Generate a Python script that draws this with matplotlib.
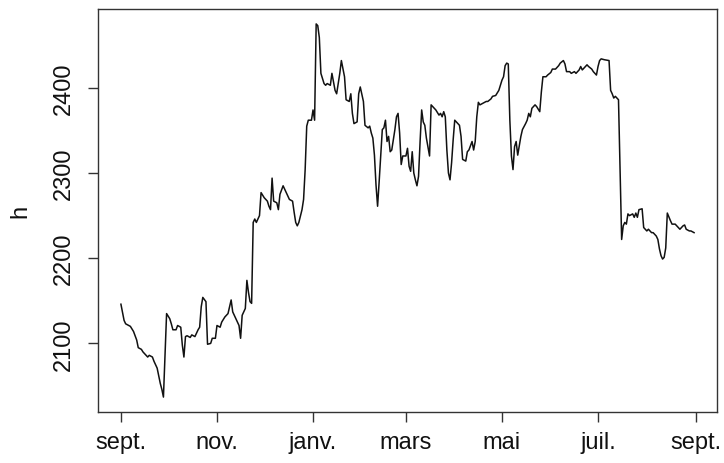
import numpy as np
import matplotlib
matplotlib.use("Agg")
import matplotlib.pyplot as plt
import matplotlib.dates as mdates

plt.rcParams["font.family"] = ["Liberation Sans", "DejaVu Sans"]

# Days elapsed since the start date, and the observed level h on each day
start_date = np.datetime64("2018-09-01")
days = [
    0, 2, 3, 6, 8, 10, 11, 13, 14, 16,
    17, 18, 20, 21, 23, 24, 25, 26, 27, 29,
    31, 32, 33, 35, 36, 38, 39, 40, 41, 42,
    44, 45, 47, 49, 50, 51, 52, 54, 55, 57,
    58, 60, 61, 63, 64, 66, 68, 70, 71, 74,
    75, 76, 77, 79, 80, 81, 82, 83, 84, 85,
    86, 88, 89, 91, 93, 94, 95, 96, 97, 99,
    100, 101, 103, 106, 107, 109, 110, 111, 112, 113,
    115, 116, 117, 118, 119, 121, 122, 123, 124, 125,
    126, 127, 128, 129, 130, 131, 133, 134, 136, 137,
    139, 140, 142, 143, 145, 146, 147, 148, 150, 151,
    152, 154, 155, 157, 158, 159, 160, 161, 162, 163,
    164, 166, 167, 168, 169, 170, 171, 172, 174, 175,
    176, 177, 178, 179, 181, 182, 183, 184, 185, 186,
    187, 188, 189, 190, 191, 192, 193, 194, 196, 197,
    198, 200, 202, 203, 204, 205, 206, 207, 208, 209,
    210, 211, 212, 214, 215, 216, 217, 219, 220, 221,
    223, 224, 225, 226, 227, 228, 230, 232, 233, 235,
    236, 238, 240, 241, 242, 243, 244, 245, 246, 247,
    248, 249, 250, 251, 252, 254, 255, 257, 258, 259,
    260, 261, 263, 264, 266, 267, 268, 270, 271, 273,
    274, 276, 278, 279, 281, 282, 283, 285, 286, 288,
    289, 291, 292, 293, 295, 296, 297, 299, 300, 302,
    303, 304, 305, 307, 310, 311, 312, 313, 314, 316,
    318, 319, 320, 321, 322, 323, 325, 326, 327, 328,
    329, 331, 332, 334, 335, 337, 338, 340, 341, 342,
    343, 344, 345, 346, 347, 349, 350, 352, 354, 355,
    357, 358, 359, 361, 362, 364,
]
h = [
    2146, 2127, 2123, 2120, 2114, 2104, 2095, 2093, 2090, 2086,
    2084, 2086, 2084, 2079, 2071, 2062, 2053, 2046, 2037, 2135,
    2129, 2123, 2116, 2116, 2121, 2119, 2098, 2084, 2108, 2109,
    2107, 2110, 2108, 2116, 2119, 2143, 2154, 2149, 2099, 2100,
    2106, 2106, 2121, 2119, 2125, 2131, 2135, 2151, 2137, 2125,
    2121, 2106, 2133, 2141, 2174, 2160, 2149, 2147, 2242, 2246,
    2242, 2250, 2277, 2271, 2267, 2261, 2257, 2294, 2267, 2265,
    2257, 2275, 2285, 2273, 2269, 2267, 2254, 2242, 2238, 2242,
    2257, 2269, 2304, 2355, 2362, 2362, 2374, 2362, 2475, 2473,
    2459, 2417, 2411, 2405, 2403, 2405, 2403, 2417, 2397, 2393,
    2417, 2432, 2413, 2386, 2384, 2393, 2370, 2358, 2360, 2393,
    2401, 2384, 2356, 2353, 2355, 2347, 2341, 2321, 2286, 2261,
    2290, 2351, 2353, 2362, 2337, 2343, 2325, 2327, 2351, 2366,
    2370, 2347, 2310, 2320, 2320, 2329, 2308, 2302, 2325, 2300,
    2292, 2285, 2296, 2337, 2374, 2360, 2356, 2341, 2320, 2380,
    2378, 2374, 2368, 2370, 2366, 2372, 2366, 2327, 2300, 2292,
    2312, 2339, 2362, 2358, 2356, 2343, 2316, 2314, 2325, 2327,
    2337, 2327, 2337, 2366, 2383, 2380, 2382, 2384, 2384, 2387,
    2390, 2391, 2397, 2403, 2409, 2413, 2426, 2429, 2428, 2362,
    2320, 2304, 2331, 2337, 2321, 2343, 2351, 2358, 2362, 2370,
    2366, 2376, 2380, 2378, 2372, 2395, 2413, 2413, 2415, 2418,
    2422, 2422, 2426, 2429, 2432, 2428, 2419, 2419, 2417, 2419,
    2417, 2421, 2425, 2421, 2425, 2427, 2425, 2422, 2419, 2415,
    2425, 2432, 2434, 2433, 2432, 2397, 2393, 2388, 2390, 2386,
    2222, 2238, 2242, 2240, 2252, 2250, 2252, 2248, 2253, 2248,
    2257, 2258, 2236, 2232, 2234, 2230, 2230, 2226, 2222, 2211,
    2203, 2199, 2201, 2212, 2253, 2244, 2240, 2240, 2236, 2234,
    2238, 2239, 2234, 2232, 2232, 2230,
]

tick_dates = ["2018-09-01", "2018-11-01", "2019-01-01", "2019-03-01",
              "2019-05-01", "2019-07-01", "2019-09-01"]
tick_labels = ["sept.", "nov.", "janv.", "mars", "mai", "juil.", "sept."]
y_ticks = [2100, 2200, 2300, 2400]

dates = start_date + np.array(days, dtype="timedelta64[D]")
h = np.array(h, dtype=float)

fig = plt.figure(figsize=(7.24, 4.64), dpi=100)
ax = fig.add_axes([98 / 724, 1 - 413 / 464, 619 / 724, 403 / 464])

ax.plot(dates.astype("datetime64[D]").astype(object), h, color="#111111", lw=1.1)

# R-style 4% padding around the data range
t0 = mdates.date2num(dates[0].astype(object))
t1 = mdates.date2num(dates[-1].astype(object))
pad_t = 0.04 * (t1 - t0)
ax.set_xlim(t0 - pad_t, t1 + pad_t)
pad_y = 0.04 * (h.max() - h.min())
ax.set_ylim(h.min() - pad_y, h.max() + pad_y)

ax.set_xticks([mdates.date2num(np.datetime64(d).astype(object)) for d in tick_dates])
ax.set_xticklabels(tick_labels)
ax.set_yticks(y_ticks)
ax.set_yticklabels([str(v) for v in y_ticks], rotation=90, va="center")

for s in ax.spines.values():
    s.set_color("#333333")
    s.set_linewidth(1.0)
ax.tick_params(axis="both", direction="out", length=7, width=1.0,
               color="#333333", labelsize=17, labelcolor="#111111")
ax.tick_params(axis="x", pad=6.5)
ax.tick_params(axis="y", pad=9.5)

ax.set_ylabel("h", fontsize=17, color="#111111")
ax.yaxis.set_label_coords(-0.108, 0.5)

fig.savefig("out.png", dpi=100)
